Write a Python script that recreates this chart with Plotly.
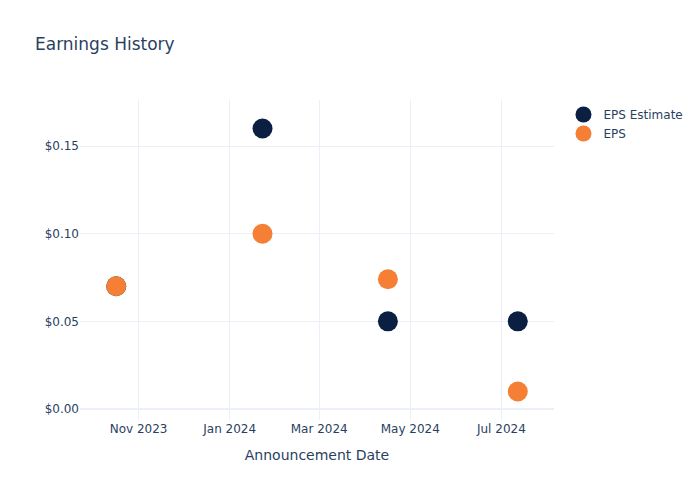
import plotly.graph_objects as go

dates = ["2023-10-17", "2024-01-23", "2024-04-16", "2024-07-12"]
eps_estimate = [0.07, 0.16, 0.05, 0.05]
eps_actual = [0.07, 0.10, 0.074, 0.01]

fig = go.Figure()
fig.add_trace(go.Scatter(x=dates, y=eps_estimate, mode="markers", name="EPS Estimate",
                         marker=dict(color="#0b1f42", size=20)))
fig.add_trace(go.Scatter(x=dates, y=eps_actual, mode="markers", name="EPS",
                         marker=dict(color="#f47f35", size=20)))
fig.update_layout(
    template="plotly_white",
    width=700, height=500,
    font=dict(family="DejaVu Sans"),
    title="Earnings History",
    xaxis_title="Announcement Date",
    yaxis=dict(tickformat="$.2f"),
)
fig.write_html("out.html")
